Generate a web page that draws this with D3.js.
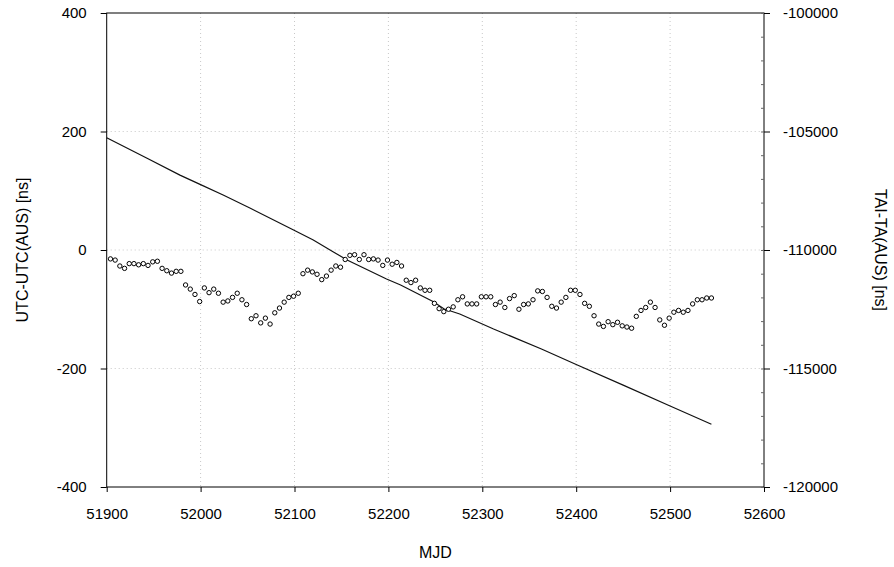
<!DOCTYPE html>
<html>
<head>
<meta charset="utf-8">
<script src="https://cdn.jsdelivr.net/npm/d3@7"></script>
<style>
  body { margin: 0; background: #fff; }
  svg { display: block; font-family: "Liberation Sans", Arial, sans-serif; }
</style>
</head>
<body>
<svg id="chart" width="894" height="567"></svg>
<script>
// ---- data ----
const startMJD = 51904;
const stepDays = 5;
const utcDiff = [
  -15,-17,-27,-31,-23,-23,-25,-23,-26,-20,-19,-31,-35,-39,-36,-36,-59,-66,-75,-87,-64,-72,-66,-73,-88,-86,-80,-73,-84,-92,-116,-111,-123,-115,-125,-106,-98,-88,-80,-78,-73,-40,-34,-37,-41,-50,-44,-34,
  -27,-29,-16,-9,-8,-16,-8,-16,-15,-17,-26,-17,-24,-21,-27,-51,-55,-51,-64,-68,-68,-90,-99,-104,-100,-96,-84,-79,-91,-91,-91,-79,-79,-79,-92,-88,-97,-82,-77,-100,-92,-91,
  -84,-69,-70,-80,-95,-98,-88,-80,-68,-68,-75,-90,-95,-111,-125,-129,-121,-126,-122,-128,-130,-132,-112,-102,-97,-88,-97,-118,-127,-115,-105,-102,-105,-102,-91,-84,-84,-81,-81
];
const utcMJD = utcDiff.map((_, i) => startMJD + i * stepDays);

const taiMJD = [51900, 51943, 51978, 52000, 52024, 52053, 52099, 52120, 52141, 52156, 52198, 52213, 52248, 52259, 52276, 52312, 52319, 52363, 52400, 52450, 52500, 52544];
const taiDiff = [-105260, -106130, -106840, -107240, -107680, -108240, -109156, -109578, -110072, -110422, -111224, -111477, -112181, -112480, -112700, -113333, -113447, -114177, -114830, -115700, -116580, -117350];

const xTicks = [51900, 52000, 52100, 52200, 52300, 52400, 52500, 52600];
const yLeftTicks = [400, 200, 0, -200, -400];
const yRightTicks = [-100000, -105000, -110000, -115000, -120000];
const yRightMinor = d3.range(-120000, -99999, 1000);
const xLabel = "MJD";
const yLeftLabel = "UTC-UTC(AUS) [ns]";
const yRightLabel = "TAI-TA(AUS) [ns]";

// ---- layout ----
const L = 106.7, R = 764, T = 13, B = 487;
const svg = d3.select("#chart");
const x = d3.scaleLinear().domain([51900, 52600]).range([L, R]);
const yL = d3.scaleLinear().domain([-400, 400]).range([B, T]);
const yR = d3.scaleLinear().domain([-120000, -100000]).range([B, T]);
const fmt = d => String(d);

// grid
const grid = svg.append("g").attr("stroke", "#c8c8c8").attr("stroke-width", 1).attr("stroke-dasharray", "1,3");
grid.selectAll("line.v").data(xTicks.filter(d => d > 51900 && d < 52600)).join("line")
  .attr("x1", d => x(d)).attr("x2", d => x(d)).attr("y1", T).attr("y2", B);
grid.selectAll("line.h").data(yLeftTicks.filter(d => d > -400 && d < 400)).join("line")
  .attr("x1", L).attr("x2", R).attr("y1", d => yL(d)).attr("y2", d => yL(d));

// frame
svg.append("rect").attr("x", L).attr("y", T).attr("width", R - L).attr("height", B - T)
  .attr("fill", "none").attr("stroke", "#000").attr("stroke-width", 1);

// axes
const fs = "15px";
const gx = svg.append("g").attr("transform", `translate(0,${B})`)
  .call(d3.axisBottom(x).tickValues(xTicks).tickFormat(fmt).tickSize(5).tickPadding(16));
const gl = svg.append("g").attr("transform", `translate(${L},0)`)
  .call(d3.axisLeft(yL).tickValues(yLeftTicks).tickFormat(fmt).tickSize(6).tickPadding(14));
const gr = svg.append("g").attr("transform", `translate(${R},0)`)
  .call(d3.axisRight(yR).tickValues(yRightTicks).tickFormat(fmt).tickSize(6).tickPadding(13));
svg.append("g").attr("transform", `translate(${R},0)`)
  .call(d3.axisLeft(yR).tickValues(yRightMinor).tickFormat("").tickSize(3).tickSizeOuter(0))
  .call(g => g.select(".domain").remove())
  .selectAll("line").attr("stroke", "#666");
[gx, gl, gr].forEach(g => {
  g.select(".domain").remove();
  g.selectAll("text").attr("font-size", fs).attr("fill", "#000")
   .attr("font-family", '"Liberation Sans", Arial, sans-serif');
});

// line series (right axis)
const lineGen = d3.line().x((d, i) => x(taiMJD[i])).y(d => yR(d));
svg.append("path").datum(taiDiff).attr("d", lineGen)
  .attr("fill", "none").attr("stroke", "#111").attr("stroke-width", 1.2);

// points (left axis)
svg.append("g").selectAll("circle").data(utcDiff).join("circle")
  .attr("cx", (d, i) => x(utcMJD[i])).attr("cy", d => yL(d)).attr("r", 2.2)
  .attr("fill", "#fff").attr("stroke", "#000").attr("stroke-width", 1);

// labels
svg.append("text").attr("x", (L + R) / 2).attr("y", 558).attr("text-anchor", "middle")
  .attr("font-size", "16px").text(xLabel);
svg.append("text").attr("transform", `translate(22,${(T + B) / 2}) rotate(-90)`)
  .attr("text-anchor", "middle").attr("dominant-baseline", "central").attr("font-size", "16px").text(yLeftLabel);
svg.append("text").attr("transform", `translate(880,${(T + B) / 2}) rotate(90)`)
  .attr("text-anchor", "middle").attr("dominant-baseline", "central").attr("font-size", "16px").text(yRightLabel);
</script>
</body>
</html>
